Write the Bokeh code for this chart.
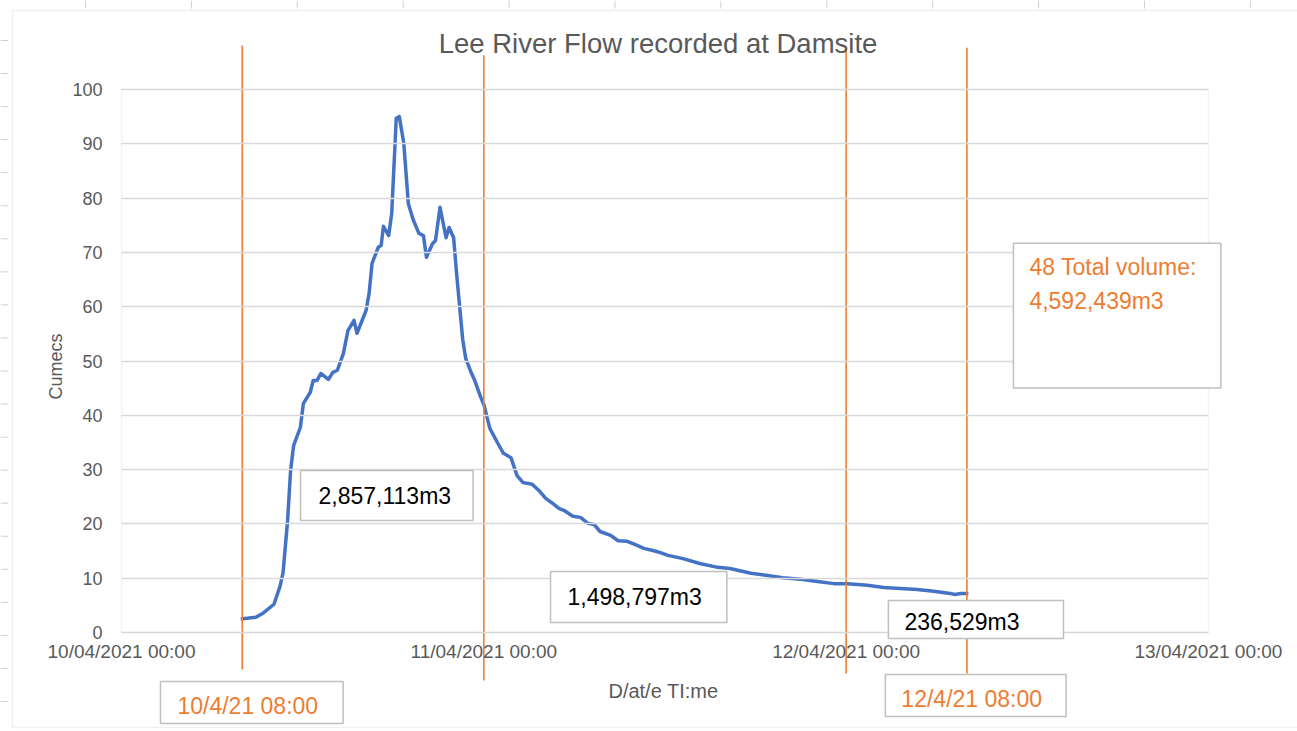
import pandas as pd
from bokeh.plotting import figure
from bokeh.models import Range1d, FixedTicker, DatetimeTickFormatter, Label, BoxAnnotation, ColumnDataSource
from bokeh.embed import file_html
from bokeh.resources import INLINE

# ---------------- data ----------------
start_time = "2021-04-10 00:00"
end_time = "2021-04-13 00:00"

# hours since 10/04/2021 00:00 and flow in cumecs
hours = [7.9, 8.9, 9.4, 10.1, 10.5, 10.7, 11.0, 11.2, 11.4, 11.85, 12.05, 12.5, 12.7, 12.95,
         13.2, 13.7, 14.0, 14.3, 14.7, 15.0, 15.4, 15.6, 16.2, 16.4, 16.6, 17.0, 17.2, 17.35,
         17.7, 17.9, 18.2, 18.4, 18.7, 19.0, 19.3, 19.7, 20.0, 20.2, 20.6, 20.8, 21.1, 21.5,
         21.7, 22.0, 22.2, 22.4, 22.6, 22.8, 23.1, 23.4, 23.8, 24.0, 24.4, 24.9, 25.3, 25.8,
         26.2, 26.6, 27.2, 27.7, 28.1, 28.5, 29.0, 29.3, 29.9, 30.4, 30.9, 31.3, 31.7, 32.4,
         32.9, 33.5, 34.2, 34.6, 35.2, 35.7, 36.2, 37.2, 38.3, 39.5, 40.3, 41.7, 42.8, 43.8,
         45.0, 46.1, 47.2, 48.1, 49.4, 50.5, 51.6, 52.7, 53.8, 54.9, 55.2, 55.6, 56.1]
flow = [2.5, 2.8, 3.6, 5.2, 8.5, 11.0, 20.5, 29.8, 34.4, 37.8, 42.2, 44.2, 46.4, 46.4,
        47.7, 46.6, 47.9, 48.3, 51.4, 55.6, 57.5, 55.1, 59.3, 62.4, 68.0, 70.9, 71.3, 74.8,
        73.1, 77.2, 94.7, 95.0, 90.1, 79.0, 76.2, 73.5, 73.1, 69.1, 71.6, 72.2, 78.3, 72.7,
        74.6, 72.7, 66.0, 60.0, 54.0, 50.5, 48.3, 46.4, 43.3, 42.0, 37.6, 35.0, 33.0, 32.2,
        28.9, 27.6, 27.3, 26.0, 24.7, 23.9, 22.8, 22.5, 21.4, 21.2, 20.1, 19.9, 18.6, 17.9,
        16.9, 16.8, 16.0, 15.5, 15.1, 14.7, 14.2, 13.6, 12.7, 12.0, 11.8, 10.9, 10.5, 10.1,
        9.8, 9.4, 9.0, 9.0, 8.7, 8.3, 8.1, 7.9, 7.6, 7.2, 7.0, 7.2, 7.2]

tick_times = ["2021-04-10 00:00", "2021-04-11 00:00", "2021-04-12 00:00", "2021-04-13 00:00"]
tick_labels = ["10/04/2021 00:00", "11/04/2021 00:00", "12/04/2021 00:00", "13/04/2021 00:00"]
y_ticks = [0, 10, 20, 30, 40, 50, 60, 70, 80, 90, 100]

marker_times = ["2021-04-10 08:00", "2021-04-11 00:00", "2021-04-12 00:00", "2021-04-12 08:00"]

title_text = "Lee River Flow recorded at Damsite"
y_title = "Cumecs"
x_title = "D/at/e TI:me"
volume_texts = ["2,857,113m3", "1,498,797m3", "236,529m3"]
total_text = "48 Total volume:\n4,592,439m3"
date_texts = ["10/4/21 08:00", "12/4/21 08:00"]

# ---------------- helpers ----------------
t0 = pd.Timestamp(start_time)
times = t0 + pd.to_timedelta(hours, unit="h")


def ms(ts):
    return pd.Timestamp(ts).value / 1e6


def hx(h):
    return ms(t0) + h * 3600000.0


FONT = "Liberation Sans"
GRAY = "#595959"
ORANGE = "#ED7D31"
BLUE = "#4472C4"
GRID = "#d9d9d9"
PX_PER_H = 15.097      # horizontal scale of the chart (pixels per hour)
PX_PER_Q = 5.43        # vertical scale (pixels per cumec)

# the frame covers the whole canvas so that annotations outside the plot area are not clipped
p = figure(width=1297, height=731, x_axis_type="datetime",
           x_range=Range1d(hx(-8.015), hx(77.90)),
           y_range=Range1d(-18.23, 116.39),
           output_backend="svg", toolbar_location=None,
           min_border_left=0, min_border_right=0, min_border_top=0, min_border_bottom=0)
p.outline_line_color = None
p.background_fill_color = "white"
p.border_fill_color = "white"

# spreadsheet cell lines behind the chart object (column edges on top, row edges on the left)
col_h = [(85 + 105.9 * i - 121) / PX_PER_H for i in range(12)]
p.segment(x0=[hx(h) for h in col_h], x1=[hx(h) for h in col_h],
          y0=[116.39] * 12, y1=[114.9] * 12, line_color="#d0d0d0", line_width=1)
row_q = [(632 - (40 + 33.05 * i)) / PX_PER_Q for i in range(21)]
p.segment(x0=[hx(-8.015)] * 21, x1=[hx(-7.5)] * 21, y0=row_q, y1=row_q,
          line_color="#d0d0d0", line_width=1)

# chart-area border (Excel chart object) and plot-area border
p.add_layout(BoxAnnotation(left=hx(-7.22), right=hx(90), bottom=-17.5, top=114.55,
                           fill_color=None, line_color="#d0d0d0", line_width=1.5, level="underlay"))
p.add_layout(BoxAnnotation(left=ms(start_time), right=ms(end_time), bottom=0, top=100,
                           fill_color=None, line_color=GRID, line_width=1.5, level="underlay"))

# x axis at y = 0
p.xaxis.fixed_location = 0
p.xaxis.ticker = FixedTicker(ticks=[ms(t) for t in tick_times])
p.xaxis.major_label_overrides = {int(ms(t)): lab for t, lab in zip(tick_times, tick_labels)}
fmt = "%d/%m/%Y %H:%M"
p.xaxis.formatter = DatetimeTickFormatter(microseconds=fmt, milliseconds=fmt, seconds=fmt, minsec=fmt,
                                          minutes=fmt, hourmin=fmt, hours=fmt, days=fmt, months=fmt, years=fmt)
p.xaxis.axis_line_color = None
p.xaxis.major_tick_line_color = None
p.xaxis.minor_tick_line_color = None
p.xaxis.major_tick_out = 0
p.xaxis.major_tick_in = 0
p.xaxis.major_label_standoff = 8
p.xaxis.major_label_text_font = FONT
p.xaxis.major_label_text_font_size = "19px"
p.xaxis.major_label_text_color = GRAY

# y axis at the start of the time range; its inward ticks span the plot area as gridlines
p.yaxis.fixed_location = ms(start_time)
p.yaxis.ticker = FixedTicker(ticks=y_ticks)
p.yaxis.axis_line_color = None
p.yaxis.minor_tick_line_color = None
p.yaxis.major_tick_line_color = GRID
p.yaxis.major_tick_line_width = 1.5
p.yaxis.major_tick_out = 0
p.yaxis.major_tick_in = 1087
p.yaxis.major_label_standoff = 19
p.yaxis.major_label_text_font = FONT
p.yaxis.major_label_text_font_size = "18px"
p.yaxis.major_label_text_color = GRAY

p.xgrid.visible = False
p.ygrid.visible = False

# flow line
src = ColumnDataSource(dict(t=times, q=flow))
p.line("t", "q", source=src, line_color=BLUE, line_width=3.5, line_join="round")

# orange event markers (vertical lines drawn across the chart)
marker_top = [108.1, 106.3, 107.6, 107.7]
marker_bottom = [-6.8, -8.84, -7.55, -7.55]
msrc = ColumnDataSource(dict(t=pd.to_datetime(marker_times), y0=marker_bottom, y1=marker_top))
p.segment(x0="t", y0="y0", x1="t", y1="y1", source=msrc, line_color=ORANGE, line_width=1.6)

# titles
p.add_layout(Label(x=hx(35.54), y=108.4, text=title_text, text_font=FONT, text_font_size="27.5px",
                   text_color=GRAY, text_align="center", text_baseline="middle"))
p.add_layout(Label(x=hx(-4.37), y=49.0, text=y_title, text_font=FONT, text_font_size="18px",
                   text_color=GRAY, text_align="center", text_baseline="middle", angle=1.5708))
p.add_layout(Label(x=hx(35.9), y=-10.68, text=x_title, text_font=FONT, text_font_size="20px",
                   text_color=GRAY, text_align="center", text_baseline="middle"))


def box(text, xh, yv, color, pad, lh=1.2):
    p.add_layout(Label(x=hx(xh), y=yv, text=text, text_font=FONT, text_font_size="23px",
                       text_color=color, text_align="left", text_baseline="top",
                       text_line_height=lh, padding=pad,
                       border_line_color="#bfbfbf", border_line_width=1.5,
                       background_fill_color="white"))


box(volume_texts[0], 11.86, 29.83, "#000000", dict(top=12, right=22, bottom=12, left=18))
box(volume_texts[1], 28.42, 11.23, "#000000", dict(top=12, right=25, bottom=13, left=17))
box(volume_texts[2], 50.80, 5.89, "#000000", dict(top=8, right=44, bottom=4, left=16))
box(total_text, 59.08, 71.7, ORANGE, dict(top=11, right=24, bottom=74, left=16), lh=1.3)
box(date_texts[0], 2.58, -9.02, ORANGE, dict(top=12, right=25, bottom=4, left=17))
box(date_texts[1], 50.6, -7.73, ORANGE, dict(top=12, right=24, bottom=4, left=16))

open("out.html", "w").write(file_html(p, INLINE))
